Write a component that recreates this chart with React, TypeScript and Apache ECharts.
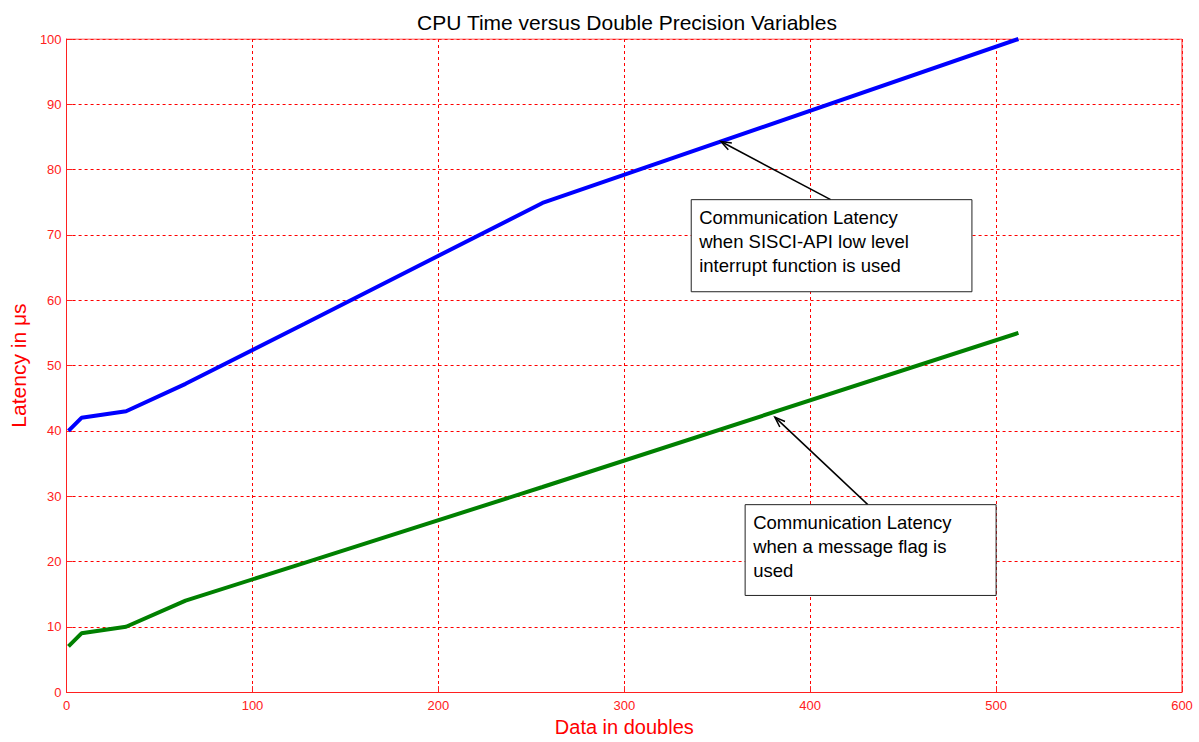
import React, { useEffect, useRef } from "react";
import * as echarts from "echarts";

const xValues = [1, 8, 32, 64, 128, 256, 512];
const interruptLatency = [40, 42, 43, 47.2, 56.4, 74.9, 100];
const flagLatency = [7, 9, 10, 14, 19.8, 31.4, 55];
const xTicks = [0, 100, 200, 300, 400, 500, 600];
const yTicks = [0, 10, 20, 30, 40, 50, 60, 70, 80, 90, 100];

const titleText = "CPU Time versus Double Precision Variables";
const note1 = ["Communication Latency", "when SISCI-API low level", "interrupt function is used"];
const note2 = ["Communication Latency", "when a message flag is", "used"];
// annotation anchors in data units: [arrow tip], [arrow tail], [box top-left], [box bottom-right]
const note1Tip = [352, 84.3];
const note1Tail = [411, 75.4];
const note1Box = [[336, 75.4], [487, 61.3]];
const note2Tip = [381, 42.1];
const note2Tail = [431, 28.7];
const note2Box = [[365, 28.7], [500, 14.8]];

const RED = "#ff2020";

export default function App() {
  const ref = useRef<HTMLDivElement>(null);
  useEffect(() => {
    const chart = echarts.init(ref.current!, undefined, { renderer: "svg" });
    chart.setOption({
      animation: false,
      backgroundColor: "#ffffff",
      title: {
        text: titleText,
        left: 622,
        top: 7,
        textAlign: "center",
        textStyle: { fontFamily: "Liberation Sans, Arial", fontSize: 21, fontWeight: "normal", color: "#000" },
      },
      grid: { left: 66, right: 17, top: 39, bottom: 47, containLabel: false },
      xAxis: {
        type: "value",
        min: xTicks[0],
        max: xTicks[xTicks.length - 1],
        interval: 100,
        name: "Data in doubles",
        nameLocation: "middle",
        nameGap: 24,
        nameTextStyle: { color: "#ff0000", fontSize: 20, fontFamily: "Liberation Sans, Arial" },
        axisLine: { show: true, onZero: false, lineStyle: { color: RED, width: 1 } },
        axisTick: { show: true, inside: true, length: 6, lineStyle: { color: RED } },
        axisLabel: { color: RED, fontSize: 13, fontFamily: "Liberation Sans, Arial", margin: 7 },
        splitLine: { show: true, lineStyle: { color: "#ff0000", type: [3, 3], width: 1 } },
      },
      yAxis: {
        type: "value",
        min: yTicks[0],
        max: yTicks[yTicks.length - 1],
        interval: 10,
        name: "Latency in μs",
        nameLocation: "middle",
        nameGap: 36,
        nameTextStyle: { color: "#ff0000", fontSize: 21, fontFamily: "Liberation Sans, Arial" },
        axisLine: { show: true, onZero: false, lineStyle: { color: RED, width: 1 } },
        axisTick: { show: true, inside: true, length: 6, lineStyle: { color: RED } },
        axisLabel: { color: RED, fontSize: 13, fontFamily: "Liberation Sans, Arial", margin: 5 },
        splitLine: { show: true, lineStyle: { color: "#ff0000", type: [3, 3], width: 1 } },
      },
      series: [
        {
          type: "line",
          data: xValues.map((x, i) => [x, interruptLatency[i]]),
          showSymbol: false,
          lineStyle: { color: "#0000ff", width: 4 },
          z: 3,
        },
        {
          type: "line",
          data: xValues.map((x, i) => [x, flagLatency[i]]),
          showSymbol: false,
          lineStyle: { color: "#008000", width: 4 },
          z: 3,
        },
        {
          // frame: top and right edges
          type: "line",
          data: [[0, 100], [600, 100], [600, 0]],
          showSymbol: false,
          lineStyle: { color: RED, width: 1 },
          silent: true,
          z: 1,
        },
      ],
    });

    const px = (p: number[]) => chart.convertToPixel({ gridIndex: 0 }, p) as number[];
    const makeNote = (lines: string[], tip: number[], tail: number[], box: number[][]) => {
      const t = px(tip);
      const s = px(tail);
      const b0 = px(box[0]);
      const b1 = px(box[1]);
      const ang = Math.atan2(s[1] - t[1], s[0] - t[0]);
      const L = 11;
      const spread = 0.35;
      const h1 = [t[0] + L * Math.cos(ang + spread), t[1] + L * Math.sin(ang + spread)];
      const h2 = [t[0] + L * Math.cos(ang - spread), t[1] + L * Math.sin(ang - spread)];
      return [
        {
          type: "line",
          shape: { x1: s[0], y1: s[1], x2: t[0], y2: t[1] },
          style: { stroke: "#000", lineWidth: 1.5 },
          z: 10,
        },
        {
          type: "polyline",
          shape: { points: [h1, t, h2] },
          style: { stroke: "#000", lineWidth: 1.5, fill: null },
          z: 10,
        },
        {
          type: "rect",
          shape: { x: b0[0], y: b0[1], width: b1[0] - b0[0], height: b1[1] - b0[1] },
          style: { fill: "#fff", stroke: "#222", lineWidth: 1 },
          z: 10,
        },
        {
          type: "text",
          x: b0[0] + 8,
          y: b0[1] + 6,
          style: {
            text: lines.join("\n"),
            fill: "#000",
            font: '18.5px "Liberation Sans", Arial',
            lineHeight: 24,
          },
          z: 11,
        },
      ];
    };
    chart.setOption({
      graphic: [
        ...makeNote(note1, note1Tip, note1Tail, note1Box),
        ...makeNote(note2, note2Tip, note2Tail, note2Box),
      ],
    });
    return () => chart.dispose();
  }, []);
  return (
    <div
      ref={ref}
      style={{ position: "absolute", left: 0, top: 0, width: 1199, height: 742 }}
    />
  );
}
